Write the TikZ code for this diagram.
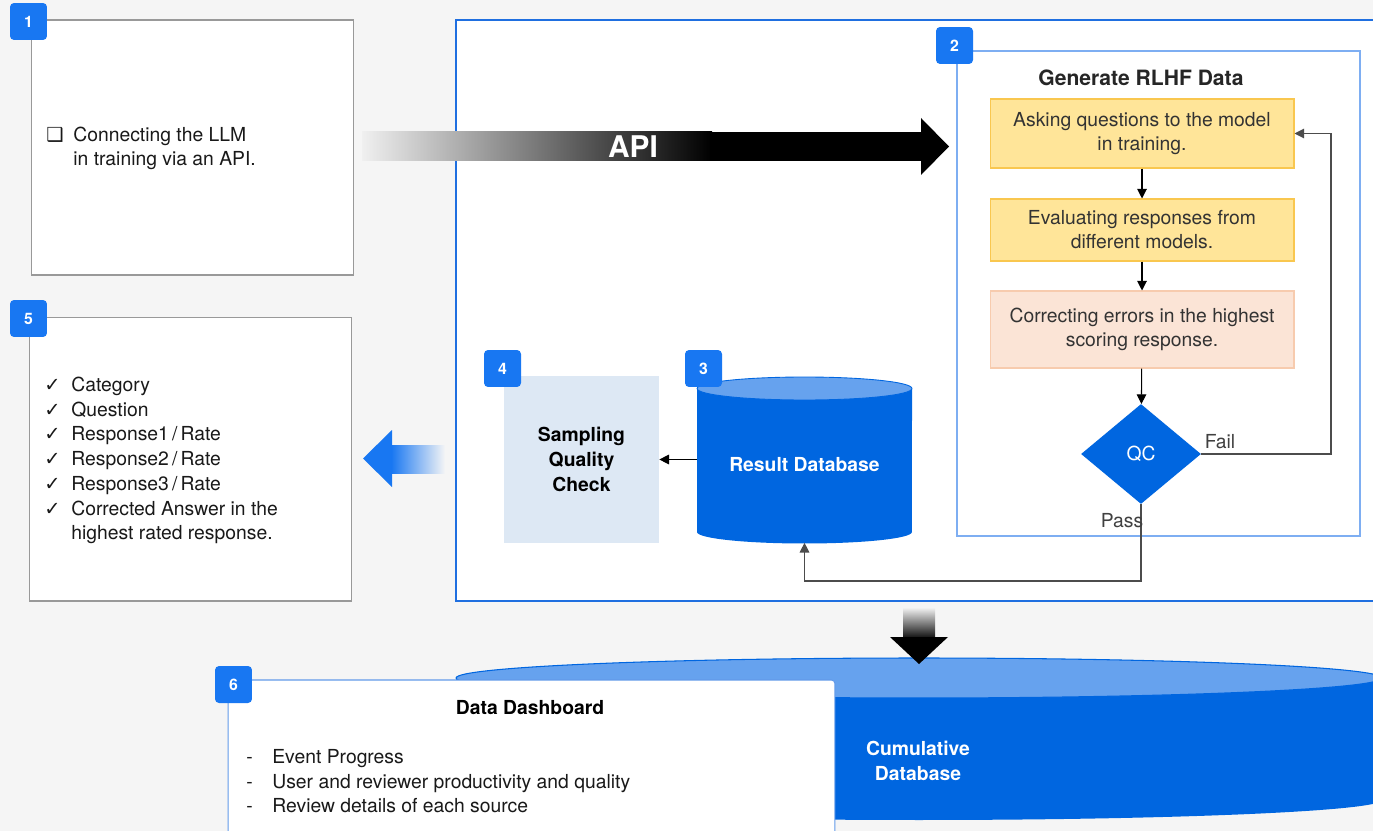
\documentclass[tikz,border=0pt]{standalone}
\usepackage{fontspec}
\setmainfont{TeX Gyre Heros}
\newfontfamily\symf{DejaVu Sans}
\usetikzlibrary{shapes.geometric}
\usetikzlibrary{arrows.meta}
\definecolor{bgray}{HTML}{F5F5F5}
\definecolor{badgeblue}{HTML}{1877F2}
\definecolor{dbblue}{HTML}{0066E0}
\definecolor{dbtop}{HTML}{66A2EE}
\definecolor{frameblue}{HTML}{1F6FE0}
\definecolor{lightframe}{HTML}{7EAEF2}
\definecolor{stepyellow}{HTML}{FFE599}
\definecolor{stepgold}{HTML}{F9C74F}
\definecolor{peach}{HTML}{FBE4D6}
\definecolor{peachline}{HTML}{F7CBAE}
\definecolor{sqcblue}{HTML}{DDE8F4}
\definecolor{txtgray}{HTML}{333333}
\tikzstyle{arrow} = [-{Triangle[length=5.5pt,width=5.5pt]}, line width=0.6pt]
\tikzstyle{badge} = [fill=badgeblue, rounded corners=2.3pt, minimum size=0.74cm, inner sep=0pt, text=white, font=\bfseries\fontsize{9}{9}\selectfont]
\tikzstyle{panel} = [draw=black!40, fill=white, line width=0.6pt, inner sep=0pt]
\tikzstyle{stepbox} = [fill=stepyellow, draw=stepgold, line width=0.6pt, minimum width=6.08cm, align=center, text=txtgray, font=\fontsize{11}{13.7}\selectfont]
\tikzstyle{body} = [font=\fontsize{11}{13.7}\selectfont, inner sep=0pt, text=black!90]

\begin{document}
\begin{tikzpicture}[x=0.02cm, y=-0.02cm]
\useasboundingbox (0,0) rectangle (1373,831);
\clip (0,0) rectangle (1373,831);
\fill[bgray] (0,0) rectangle (1373,831);

% step 1
\node[panel, minimum width=6.46cm, minimum height=5.1cm] (llm) at (192.5,147.5) {};
\node[body, anchor=base west] (llmbox) at (46,142) {\symf ❑};
\node[body, anchor=west, align=left] (llmtxt) at (73,148) {Connecting the LLM\\in training via an API.};
\node[badge] (b1) at (28.5,21.5) {1};

% step 5
\node[panel, minimum width=6.46cm, minimum height=5.68cm] (fields) at (190.5,459) {};
\foreach \i in {1,...,6}{
	\node[body, anchor=base west] (chk\i) at (44,{391.5+24.7*(\i-1)}) {\symf ✓};
}
\foreach \txt [count=\i] in {Category,Question,Response1\,/\,Rate,Response2\,/\,Rate,Response3\,/\,Rate,Corrected Answer in the,highest rated response.}{
	\node[body, anchor=base west] (item\i) at (71,{391.5+24.7*(\i-1)}) {\txt};
}
\node[badge] (b5) at (28.5,318.5) {5};

% outer frame
\node[draw=frameblue, fill=white, line width=0.7pt, minimum width=18.48cm, minimum height=11.62cm, inner sep=0pt] (frame) at (918,310.5) {};

% API arrow
\shade[left color=black!6, right color=black] (362,132) rectangle (712,161);
\fill[black] (710,132) rectangle (922,161);
\fill[black] (921,118) -- (949,146.5) -- (921,175) -- cycle;
\node[text=white, font=\bfseries\fontsize{17}{17}\selectfont] (api) at (633,147) {API};

% step 2
\node[draw=lightframe, fill=white, line width=0.9pt, minimum width=8.06cm, minimum height=9.7cm, inner sep=0pt] (gen) at (1158.5,293.5) {};
\node[font=\bfseries\fontsize{12}{12}\selectfont, text=black!85] (gentitle) at (1141,78) {Generate RLHF Data};
\node[stepbox, minimum height=1.38cm] (ask) at (1142,133.5) {Asking questions to the model\\in training.};
\node[stepbox, minimum height=1.24cm] (eval) at (1142,230) {Evaluating responses from\\different models.};
\node[stepbox, fill=peach, draw=peachline, minimum height=1.54cm] (fix) at (1142,329.5) {Correcting errors in the highest\\scoring response.};
\node[diamond, fill=dbblue, minimum width=2.4cm, minimum height=2cm, inner sep=0pt, text=white, font=\fontsize{11}{11}\selectfont] (qc) at (1141,454) {QC};
\node[badge] (b2) at (954.5,45.5) {2};

\draw[arrow] (ask) -- (eval);
\draw[arrow] (eval) -- (fix);
\draw[arrow] (fix) -- (qc);
\coordinate (failturn) at (1331,454);
\draw[arrow, draw=black!70] (qc.east) -- (failturn) |- (ask.east);
\node[body, text=black!75] (fail) at (1220,442) {Fail};

% step 3 and 4
\node[fill=sqcblue, minimum width=3.1cm, minimum height=3.34cm, align=center, font=\bfseries\fontsize{11}{14}\selectfont] (sqc) at (581.5,459.5) {Sampling\\Quality\\Check};
\fill[dbblue] (697,388.5) -- (697,532) arc[start angle=180, end angle=360, x radius=2.15cm, y radius=0.23cm] -- (912,388.5) -- cycle;
\filldraw[fill=dbtop, draw=dbblue, line width=0.5pt] (804.5,388.5) ellipse [x radius=2.15cm, y radius=0.23cm];
\node[minimum width=4.3cm, minimum height=3.1cm, inner sep=0pt, text=white, font=\bfseries\fontsize{11}{11}\selectfont] (rdb) at (804.5,465) {Result Database};
\node[badge] (b4) at (502.5,368.5) {4};
\node[badge] (b3) at (703.5,368.5) {3};

\draw[arrow] (rdb.west |- sqc.east) -- (sqc.east);
\coordinate (passturn) at (1141,581);
\draw[arrow, draw=black!70] (qc.south) -- (passturn) -| (rdb.south);
\node[body, text=black!75] (pass) at (1122,521) {Pass};

% blue arrow to step 5
\shade[left color=badgeblue, right color=bgray] (391,445) rectangle (445,473);
\fill[badgeblue] (363,458.5) -- (392,430) -- (392,487) -- cycle;

% cumulative database
\fill[dbblue] (456,678) -- (456,800) arc[start angle=180, end angle=360, x radius=9.26cm, y radius=0.4cm] -- (1382,678) -- cycle;
\filldraw[fill=dbtop, draw=dbblue, line width=0.6pt] (919,678) ellipse [x radius=9.26cm, y radius=0.4cm];
\node[text=white, align=center, font=\bfseries\fontsize{11}{14}\selectfont] (cdb) at (918,761) {Cumulative\\Database};
\shade[top color=black!6, bottom color=black] (903,608) rectangle (935,640);
\fill[black] (890,637) -- (948,637) -- (919,664) -- cycle;

% step 6
\node[draw=frameblue!70, fill=white, line width=0.6pt, rounded corners=2pt, minimum width=12.14cm, minimum height=3.4cm, inner sep=0pt] (dash) at (531.5,765) {};
\node[font=\bfseries\fontsize{11}{11}\selectfont] (dashtitle) at (530,708) {Data Dashboard};
\foreach \txt [count=\i] in {Event Progress,User and reviewer productivity and quality,Review details of each source}{
	\node[body, anchor=base west] (dashmark\i) at (246,{763.5+24.5*(\i-1)}) {-};
	\node[body, anchor=base west] (stat\i) at (272,{763.5+24.5*(\i-1)}) {\txt};
}
\node[badge] (b6) at (233.5,684.5) {6};
\end{tikzpicture}
\end{document}
